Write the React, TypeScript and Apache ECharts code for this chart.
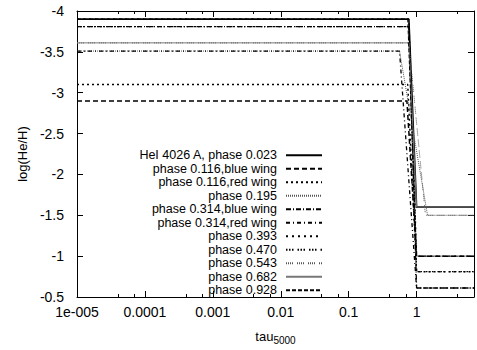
import React, { useEffect, useRef } from "react";
import * as echarts from "echarts";

const seriesNames = [
  "HeI 4026 A, phase 0.023",
  "phase 0.116,blue wing",
  "phase 0.116,red wing",
  "phase 0.195",
  "phase 0.314,blue wing",
  "phase 0.314,red wing",
  "phase 0.393",
  "phase 0.470",
  "phase 0.543",
  "phase 0.682",
  "phase 0.928",
];
// abundance in the upper atmosphere (small tau)
const upperLevel = [-3.9, -2.9, -3.1, -3.51, -3.81, -3.51, -3.9, -3.81, -3.61, -3.61, -3.9];
// abundance in the deep atmosphere (large tau)
const lowerLevel = [-1.6, -1.0, -0.81, -1.5, -0.61, -0.61, -1.0, -0.81, -1.5, -1.6, -1.0];
// tau where the transition begins and ends
const tauTop = [0.77, 0.72, 0.74, 0.56, 0.77, 0.56, 0.77, 0.77, 0.77, 0.77, 0.74];
const tauBottom = [1.0, 1.0, 1.0, 1.45, 1.0, 1.0, 1.0, 1.0, 1.35, 1.0, 1.0];
const tauMin = 1e-5;
const tauMax = 7;
const xTickLabels = ["1e-005", "0.0001", "0.001", "0.01", "0.1", "1"];

const lineTypes: any[] = [
  "solid",
  [5, 3],
  [2, 3],
  [1, 1],
  [5, 2, 1, 2],
  [4, 3, 1, 3],
  [2, 4],
  [1.5, 1.5, 1.5, 1.5, 1.5, 4],
  [1, 1, 1, 1, 1, 1, 1, 4],
  "solid",
  [4, 2],
];
const lineColors = ["#000", "#000", "#000", "#555", "#000", "#000", "#000", "#000", "#555", "#777", "#000"];
const lineWidths = [1.6, 1.5, 1.5, 1, 1.3, 1.3, 1.3, 1.3, 1, 1, 1];

const FONT = "Liberation Sans";

export default function App() {
  const ref = useRef<HTMLDivElement>(null);
  useEffect(() => {
    if (!ref.current) return;
    const chart = echarts.init(ref.current, undefined, { renderer: "svg" });
    const series = seriesNames.map((name, i) => ({
      name,
      type: "line",
      symbol: "none",
      silent: true,
      data: [
        [tauMin, upperLevel[i]],
        [tauTop[i], upperLevel[i]],
        [tauBottom[i], lowerLevel[i]],
        [tauMax, lowerLevel[i]],
      ],
      lineStyle: { color: lineColors[i], width: lineWidths[i], type: lineTypes[i] },
      itemStyle: { color: lineColors[i] },
    }));
    const xFormatter = (v: number) => {
      const e = Math.round(Math.log10(v));
      return xTickLabels[e + 5] ?? "";
    };
    const commonX = {
      type: "log",
      logBase: 10,
      min: tauMin,
      max: tauMax,
      splitLine: { show: false },
      axisLine: { show: true, lineStyle: { color: "#000", width: 1 } },
      axisTick: { show: true, inside: true, length: 6, lineStyle: { color: "#000" } },
      minorTick: { show: true, splitNumber: 3, length: 3, lineStyle: { color: "#000" } },
    };
    const commonY = {
      type: "value",
      inverse: true,
      min: -4,
      max: -0.5,
      interval: 0.5,
      splitLine: { show: false },
      axisLine: { show: true, lineStyle: { color: "#000", width: 1 } },
      axisTick: { show: true, inside: true, length: 6, lineStyle: { color: "#000" } },
    };
    chart.setOption({
      animation: false,
      backgroundColor: "#fff",
      textStyle: { fontFamily: FONT },
      grid: { left: 77, right: 2, top: 11, bottom: 46, show: false, containLabel: false },
      xAxis: [
        {
          ...commonX,
          position: "bottom",
          axisLabel: { formatter: xFormatter, color: "#000", fontSize: 14, margin: 8, fontFamily: FONT },
          name: "{a|tau}{b|5000}",
          nameLocation: "middle",
          nameGap: 30,
          nameTextStyle: {
            rich: {
              a: { fontSize: 13, color: "#000", fontFamily: FONT },
              b: { fontSize: 10, color: "#000", fontFamily: FONT, padding: [8, 0, 0, 0] },
            },
          },
        },
        {
          ...commonX,
          position: "top",
          axisLabel: { show: false },
        },
      ],
      yAxis: [
        {
          ...commonY,
          position: "left",
          axisLabel: { color: "#000", fontSize: 14, margin: 13, fontFamily: FONT },
          name: "log(He/H)",
          nameLocation: "middle",
          nameGap: 48,
          nameTextStyle: { color: "#000", fontSize: 13, fontFamily: FONT },
        },
        {
          ...commonY,
          position: "right",
          axisLabel: { show: false },
        },
      ],
      legend: {
        orient: "vertical",
        left: 127,
        top: 148.5,
        align: "right",
        itemWidth: 36,
        itemHeight: 10,
        itemGap: -0.1,
        padding: 0,
        selectedMode: false,
        data: seriesNames,
        itemStyle: { opacity: 0, borderWidth: 0 },
        textStyle: {
          color: "#000",
          fontSize: 12.5,
          lineHeight: 13.6,
          fontFamily: FONT,
          width: 150,
          align: "right",
          padding: [0, 4, 0, 0],
        },
      },
      series,
    });
    return () => chart.dispose();
  }, []);
  return <div ref={ref} style={{ width: 477, height: 350, position: "absolute", left: 0, top: 0 }} />;
}
